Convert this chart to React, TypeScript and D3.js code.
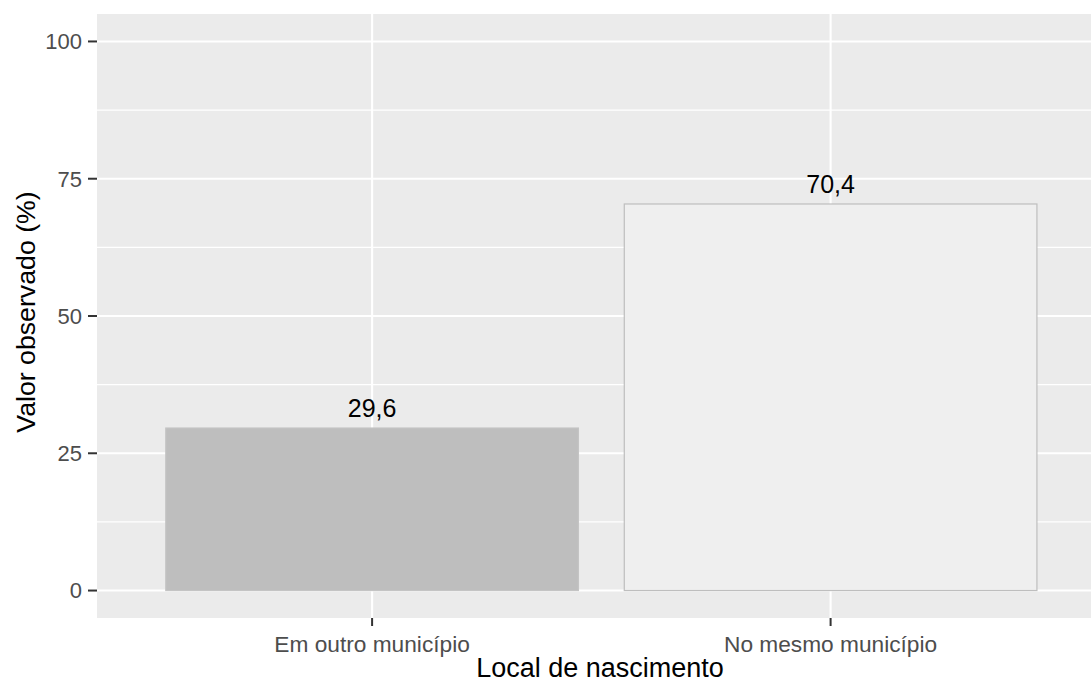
import React, { useEffect, useRef } from "react";
import * as d3 from "d3";

const categories = ["Em outro município", "No mesmo município"];
const values = [29.6, 70.4];
const labels = ["29,6", "70,4"];
const yTicks = [0, 25, 50, 75, 100];
const yMinor = [12.5, 37.5, 62.5, 87.5];
const fills = ["#bebebe", "#efefef"];
const strokes = ["#c4c4c4", "#bebebe"];

export default function App() {
  const ref = useRef<SVGSVGElement | null>(null);

  useEffect(() => {
    const width = 1091;
    const height = 684;
    const left = 97, top = 14, bottom = 618;
    const step = 458.5;
    const right = left + step * 2.2;

    const svg = d3.select(ref.current);
    svg.selectAll("*").remove();
    svg.attr("width", width).attr("height", height);

    const font = "'Liberation Sans', Arial, sans-serif";

    // discrete x: ggplot expands 0.6 on each side of the two categories
    const x = d3.scalePoint<string>()
      .domain(categories)
      .range([left + 0.6 * step, left + 1.6 * step]);
    const cx = (c: string) => x(c) as number;

    const y = d3.scaleLinear().domain([-5, 105]).range([bottom, top]);

    // panel
    svg.append("rect")
      .attr("x", left).attr("y", top)
      .attr("width", right - left).attr("height", bottom - top)
      .attr("fill", "#ebebeb");

    // minor grid
    svg.selectAll(".minor").data(yMinor).enter().append("line")
      .attr("x1", left).attr("x2", right)
      .attr("y1", d => y(d)).attr("y2", d => y(d))
      .attr("stroke", "#ffffff").attr("stroke-width", 1.1);

    // major grid
    svg.selectAll(".major").data(yTicks).enter().append("line")
      .attr("x1", left).attr("x2", right)
      .attr("y1", d => y(d)).attr("y2", d => y(d))
      .attr("stroke", "#ffffff").attr("stroke-width", 2.1);

    svg.selectAll(".vgrid").data(categories).enter().append("line")
      .attr("x1", d => cx(d)).attr("x2", d => cx(d))
      .attr("y1", top).attr("y2", bottom)
      .attr("stroke", "#ffffff").attr("stroke-width", 2.1);

    // bars
    const bw = 0.9 * step;
    svg.selectAll(".bar").data(values).enter().append("rect")
      .attr("x", (d, i) => cx(categories[i]) - bw / 2)
      .attr("y", d => y(d))
      .attr("width", bw)
      .attr("height", d => y(0) - y(d))
      .attr("fill", (d, i) => fills[i])
      .attr("stroke", (d, i) => strokes[i])
      .attr("stroke-width", 1.2);

    // value labels
    svg.selectAll(".lab").data(values).enter().append("text")
      .attr("x", (d, i) => cx(categories[i]))
      .attr("y", d => y(d) - 11)
      .attr("text-anchor", "middle")
      .attr("font-family", font)
      .attr("font-size", 25)
      .attr("fill", "#000000")
      .text((d, i) => labels[i]);

    // y axis ticks
    const ya = svg.append("g");
    ya.selectAll("line").data(yTicks).enter().append("line")
      .attr("x1", left - 9).attr("x2", left)
      .attr("y1", d => y(d)).attr("y2", d => y(d))
      .attr("stroke", "#333333").attr("stroke-width", 2);
    ya.selectAll("text").data(yTicks).enter().append("text")
      .attr("x", left - 15)
      .attr("y", d => y(d))
      .attr("dy", "0.36em")
      .attr("text-anchor", "end")
      .attr("font-family", font)
      .attr("font-size", 22)
      .attr("fill", "#4d4d4d")
      .text(d => String(d));

    // x axis ticks
    const xa = svg.append("g");
    xa.selectAll("line").data(categories).enter().append("line")
      .attr("x1", d => cx(d)).attr("x2", d => cx(d))
      .attr("y1", bottom).attr("y2", bottom + 8)
      .attr("stroke", "#333333").attr("stroke-width", 2);
    xa.selectAll("text").data(categories).enter().append("text")
      .attr("x", d => cx(d))
      .attr("y", 652)
      .attr("text-anchor", "middle")
      .attr("font-family", font)
      .attr("font-size", 22.7)
      .attr("fill", "#4d4d4d")
      .text(d => d);

    // titles
    svg.append("text")
      .attr("x", 600)
      .attr("y", 677)
      .attr("text-anchor", "middle")
      .attr("font-family", font)
      .attr("font-size", 27)
      .attr("fill", "#000000")
      .text("Local de nascimento");

    svg.append("text")
      .attr("transform", `translate(35,312) rotate(-90)`)
      .attr("text-anchor", "middle")
      .attr("font-family", font)
      .attr("font-size", 26.7)
      .attr("fill", "#000000")
      .text("Valor observado (%)");
  }, []);

  return (
    <div style={{ position: "absolute", left: 0, top: 0 }}>
      <svg ref={ref} style={{ display: "block" }} />
    </div>
  );
}
